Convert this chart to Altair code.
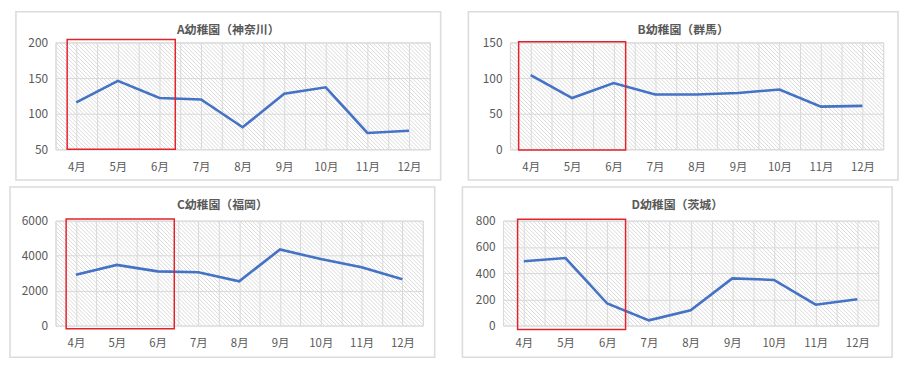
import altair as alt
import pandas as pd

# ---- data ----
MONTHS = [4, 5, 6, 7, 8, 9, 10, 11, 12]
MONTH_LABELS = ["4月", "5月", "6月", "7月", "8月", "9月", "10月", "11月", "12月"]
TITLES = ["A幼稚園（神奈川）", "B幼稚園（群馬）", "C幼稚園（福岡）", "D幼稚園（茨城）"]
A_VALUES = [116, 146, 122, 120, 81, 128, 137, 73, 76]
B_VALUES = [104, 72, 93, 77, 77, 79, 84, 60, 61]
C_VALUES = [2900, 3470, 3100, 3050, 2530, 4350, 3800, 3330, 2650]
D_VALUES = [490, 515, 168, 40, 117, 360, 348, 159, 200]
Y_DOMAINS = [[50, 200], [0, 150], [0, 6000], [0, 800]]
Y_TICKS = [[50, 100, 150, 200], [0, 50, 100, 150], [0, 2000, 4000, 6000], [0, 200, 400, 600, 800]]
# highlighted range (red frame): month start/end, value top/bottom
HL_X = [[3.78, 6.38], [3.71, 6.29], [3.76, 6.41], [3.85, 6.44]]
HL_Y = [[204, 50], [151, -1], [6090, -180], [810, -30]]

FONT = "Noto Sans CJK JP"
GRAY = "#595959"
X_GRID = [3.5 + 0.5 * k for k in range(19)]
X_DOMAIN = [3.5, 12.5]
HATCH_PX = 4.0


def panel(i, values, W, H, L, T, R, B):
    df = pd.DataFrame({"m": MONTHS, "v": values})
    xaxis = alt.Axis(values=X_GRID, labelExpr="datum.value % 1 == 0 ? datum.value + '月' : ''",
                     grid=True, gridColor="#d9d9d9", ticks=False, domain=False, title=None,
                     labelOverlap=False, labelFlush=False, labelPadding=12,
                     labelColor=GRAY, labelFontSize=11.5, labelFont=FONT)
    yaxis = alt.Axis(values=Y_TICKS[i], format="d", grid=True, gridColor="#d9d9d9", ticks=False,
                     domain=False, title=None, labelPadding=8, labelColor=GRAY,
                     labelFontSize=12, labelFont=FONT)
    xs = alt.Scale(domain=X_DOMAIN, nice=False, zero=False)
    ys = alt.Scale(domain=Y_DOMAINS[i], nice=False, zero=False)

    # diagonal hatch texture of the plot area (pixel spacing converted to month units)
    upx = (X_DOMAIN[1] - X_DOMAIN[0]) / W
    hatch = alt.Chart(alt.sequence(X_DOMAIN[0] - H * upx, X_DOMAIN[1], HATCH_PX * upx, as_="m")).mark_rule(
        clip=True, color="#dadada", strokeWidth=1).transform_calculate(
        m2=f"datum.m + {H * upx}").encode(
        x=alt.X("m:Q", scale=xs, axis=xaxis), x2="m2:Q", y=alt.value(0), y2=alt.value(H))

    one = alt.Data(values=[{"t": TITLES[i]}])
    line = alt.Chart(df).mark_line(color="#4472C4", strokeWidth=2.6).encode(
        x=alt.X("m:Q", scale=xs, axis=xaxis), y=alt.Y("v:Q", scale=ys, axis=yaxis))
    hl = pd.DataFrame({"m": [HL_X[i][0]], "m2": [HL_X[i][1]], "v": [HL_Y[i][0]], "v2": [HL_Y[i][1]]})
    red = alt.Chart(hl).mark_rect(fillOpacity=0, stroke="#e3222c", strokeWidth=1.5).encode(
        x=alt.X("m:Q", scale=xs, axis=xaxis), x2="m2:Q",
        y=alt.Y("v:Q", scale=ys, axis=yaxis), y2="v2:Q")
    title = alt.Chart(one).mark_text(fontWeight="bold", fontSize=12, color=GRAY, font=FONT,
                                     baseline="middle", align="center").encode(
        x=alt.value((W + R - L) / 2), y=alt.value(-T + 19), text="t:N")
    border = alt.Chart(one).mark_rect(fillOpacity=0, stroke="#dcdcdc", strokeWidth=1.6).encode(
        x=alt.value(-L + 1), x2=alt.value(W + R - 1), y=alt.value(-T + 1), y2=alt.value(H + B - 1))
    return alt.layer(hatch, line, red, title, border).properties(width=W, height=H)


pa = panel(0, A_VALUES, 378, 108, 41, 32, 12, 32)
pb = panel(1, B_VALUES, 377, 108, 43, 32, 16, 32)
pc = panel(2, C_VALUES, 371, 106, 47, 35, 13, 33)
pd_ = panel(3, D_VALUES, 379, 106, 42, 35, 15, 33)

chart = alt.vconcat(
    alt.hconcat(pa, pb, spacing=24),
    alt.hconcat(pc, pd_, spacing=24),
    spacing=3,
).properties(padding=0).configure_view(stroke=None).configure(font=FONT)

chart.save("out.html", embed_options={"renderer": "svg", "actions": False})
